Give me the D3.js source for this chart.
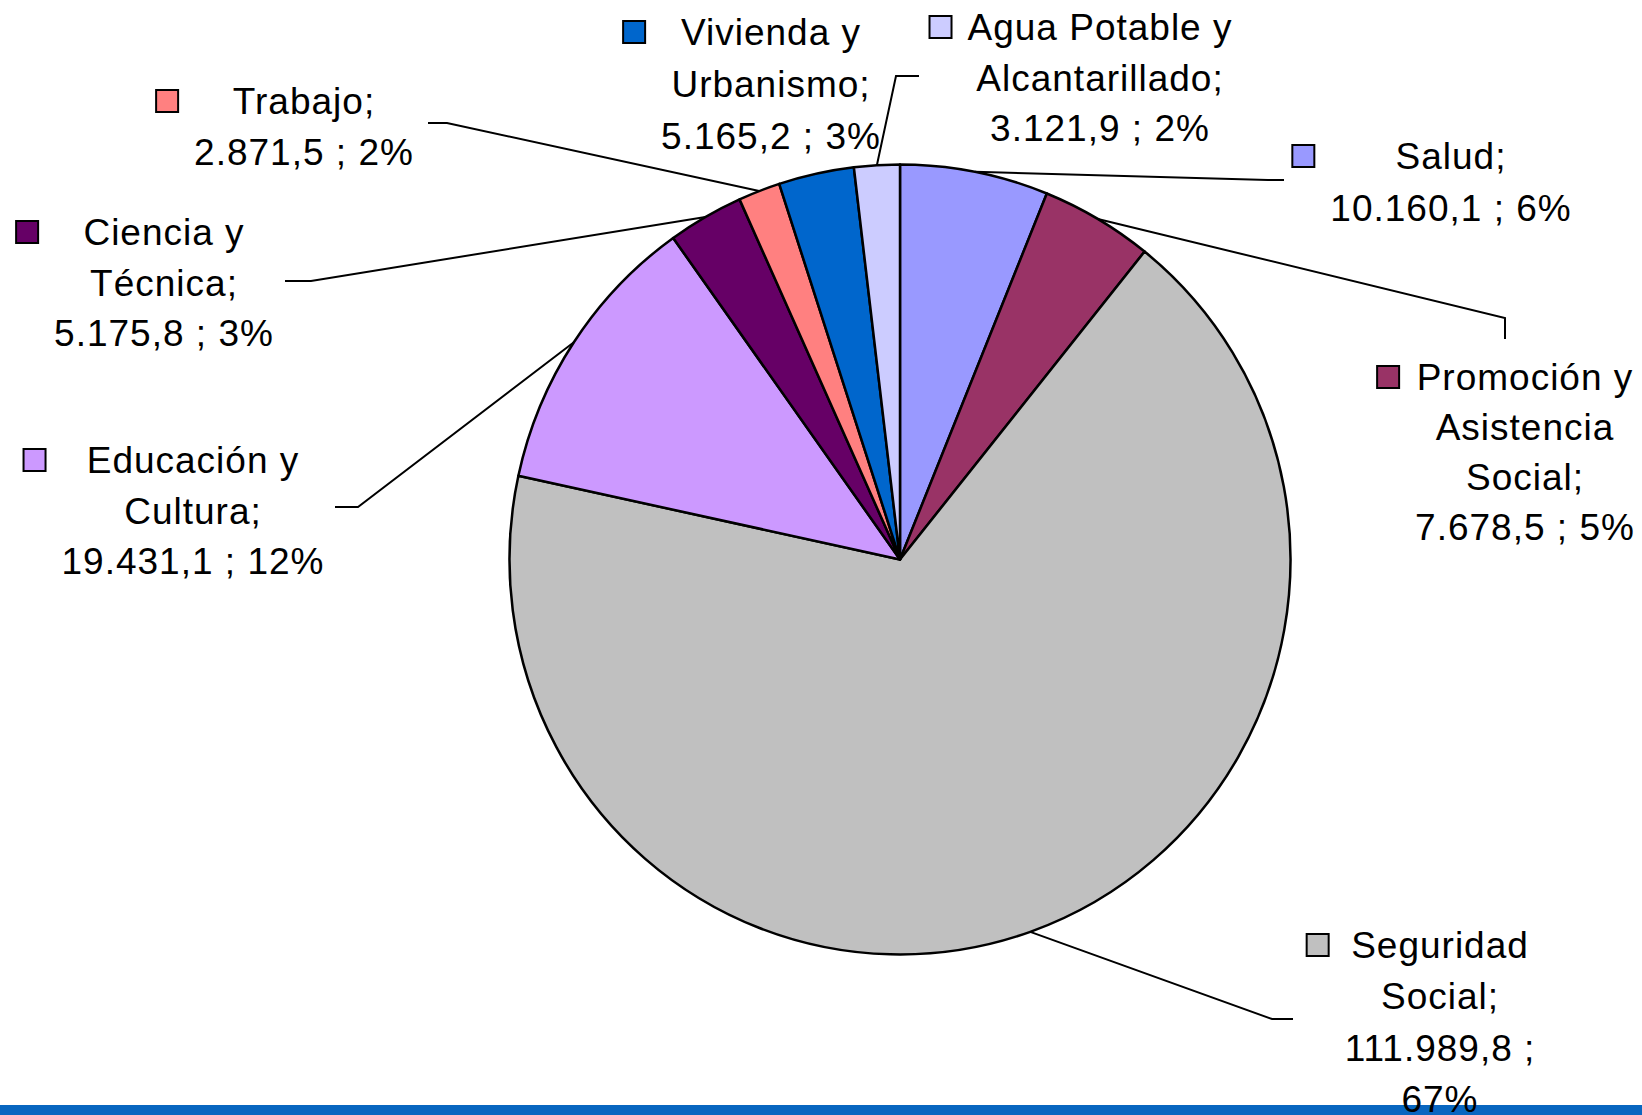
<!DOCTYPE html>
<html>
<head>
<meta charset="utf-8">
<script src="https://cdn.jsdelivr.net/npm/d3@7"></script>
<style>
  html, body { margin: 0; padding: 0; background: #ffffff; }
  svg { display: block; }
  text { font-family: "Liberation Sans", Arial, sans-serif; font-size: 37px; letter-spacing: 1px; fill: #000; }
</style>
</head>
<body>
<svg id="chart" width="1642" height="1115"></svg>
<script>
// ---- data ----
const categories = ["Salud", "Promoción y Asistencia Social", "Seguridad Social", "Educación y Cultura",
                    "Ciencia y Técnica", "Trabajo", "Vivienda y Urbanismo", "Agua Potable y Alcantarillado"];
const values = [10160.1, 7678.5, 111989.8, 19431.1, 5175.8, 2871.5, 5165.2, 3121.9];
const valueLabels = ["10.160,1", "7.678,5", "111.989,8", "19.431,1", "5.175,8", "2.871,5", "5.165,2", "3.121,9"];
const percentLabels = ["6%", "5%", "67%", "12%", "3%", "2%", "3%", "2%"];
const colors = ["#9999FF", "#993366", "#C0C0C0", "#CC99FF", "#660066", "#FF8080", "#0066CC", "#CCCCFF"];

// ---- layout (label positions, line breaks, leader elbows) ----
const labelLayout = [
  { lines: ["Salud;", "10.160,1 ; 6%"], cx: 1451, y: 169, dy: 52, leader: [[1268,180],[1284,180]] },
  { lines: ["Promoción y", "Asistencia", "Social;", "7.678,5 ; 5%"], cx: 1525, y: 390, dy: 50, leader: [[1505,318],[1505,339]] },
  { lines: ["Seguridad", "Social;", "111.989,8 ;", "67%"], cx: 1440, y: 958, dy: 51.3, leader: [[1272,1019],[1293,1019]] },
  { lines: ["Educación y", "Cultura;", "19.431,1 ; 12%"], cx: 193, y: 473, dy: 50.7, leader: [[358,507],[335,507]] },
  { lines: ["Ciencia y", "Técnica;", "5.175,8 ; 3%"], cx: 164, y: 245, dy: 50.5, leader: [[311,281],[285,281]] },
  { lines: ["Trabajo;", "2.871,5 ; 2%"], cx: 304, y: 114, dy: 51, leader: [[447,123],[428,123]] },
  { lines: ["Vivienda y", "Urbanismo;", "5.165,2 ; 3%"], cx: 771, y: 45, dy: 52, leader: null },
  { lines: ["Agua Potable y", "Alcantarillado;", "3.121,9 ; 2%"], cx: 1100, y: 40, dy: 50.5, leader: [[896,76],[919,76]] }
];

const cx = 900, cy = 559.5, rx = 390.5, ry = 395;

const svg = d3.select("#chart");

// bottom band
svg.append("rect").attr("x", 0).attr("y", 1105).attr("width", 1642).attr("height", 10).attr("fill", "#0866C0");

const pie = d3.pie().sort(null).value(d => d.value).startAngle(0).endAngle(2 * Math.PI);
const data = categories.map((c, i) => ({ name: c, value: values[i], color: colors[i], idx: i }));
const arcs = pie(data);
const arc = d3.arc().innerRadius(0).outerRadius(rx);

const g = svg.append("g").attr("transform", `translate(${cx},${cy}) scale(1,${ry / rx})`);
g.selectAll("path.slice").data(arcs).join("path")
  .attr("class", "slice")
  .attr("d", arc)
  .attr("fill", d => d.data.color)
  .attr("stroke", "#000")
  .attr("stroke-width", 2.5)
  .attr("stroke-linejoin", "round")
  .attr("vector-effect", "non-scaling-stroke");

// leader lines
arcs.forEach((a, i) => {
  const L = labelLayout[i];
  if (!L.leader) return;
  const mid = (a.startAngle + a.endAngle) / 2;
  const start = [cx + rx * Math.sin(mid), cy - ry * Math.cos(mid)];
  const pts = [start, ...L.leader];
  svg.append("path")
    .attr("d", d3.line()(pts))
    .attr("fill", "none")
    .attr("stroke", "#000")
    .attr("stroke-width", 2);
});

// labels
arcs.forEach((a, i) => {
  const L = labelLayout[i];
  const lg = svg.append("g");
  let minLeft = Infinity;
  L.lines.forEach((t, k) => {
    const tx = lg.append("text")
      .attr("x", L.cx)
      .attr("y", L.y + k * L.dy)
      .attr("text-anchor", "middle")
      .text(t);
    const w = tx.node().getComputedTextLength();
    minLeft = Math.min(minLeft, L.cx - w / 2);
  });
  lg.append("rect")
    .attr("x", minLeft - 38)
    .attr("y", L.y - 24)
    .attr("width", 22)
    .attr("height", 22)
    .attr("fill", colors[i])
    .attr("stroke", "#000")
    .attr("stroke-width", 2);
});
</script>
</body>
</html>
